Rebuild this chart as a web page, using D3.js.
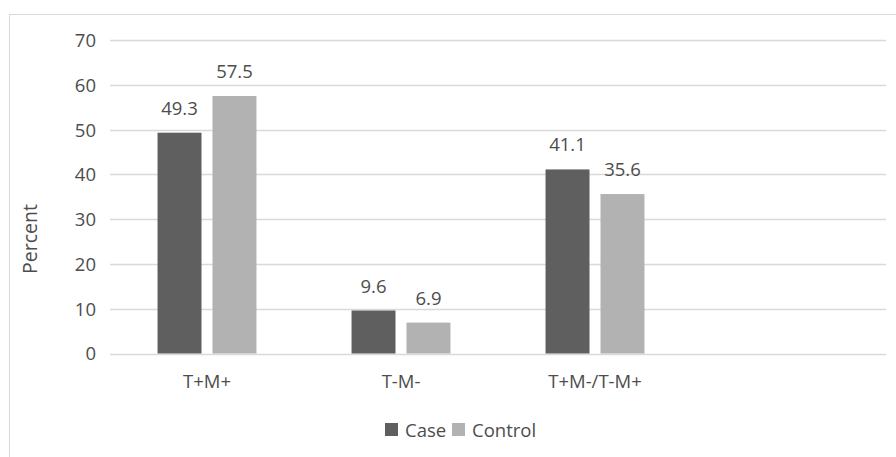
<!DOCTYPE html>
<html>
<head>
<meta charset="utf-8">
<script src="https://cdn.jsdelivr.net/npm/d3@7"></script>
<style>
  html, body { margin: 0; padding: 0; background: #fff; }
  svg text { font-family: "Open Sans", sans-serif; fill: #4d4d4d; }
</style>
</head>
<body>
<script>
// Grouped bar chart: Case vs Control percentages by marker pattern
const categories = ["T+M+", "T-M-", "T+M-/T-M+", ""];
const seriesNames = ["Case", "Control"];
const caseValues = [49.3, 9.6, 41.1, null];
const controlValues = [57.5, 6.9, 35.6, null];
const yTicks = [0, 10, 20, 30, 40, 50, 60, 70];
const seriesColors = ["#5f5f5f", "#b2b2b2"];

const W = 896, H = 457;
const FS = 18.5;

const svg = d3.select("body").append("svg")
  .attr("width", W).attr("height", H);

// chart frame (top and left edges visible)
svg.append("rect")
  .attr("x", 9.5).attr("y", 14.5)
  .attr("width", W + 20).attr("height", H + 20)
  .attr("fill", "#fff").attr("stroke", "#d9d9d9").attr("stroke-width", 1);

const x0 = d3.scaleBand().domain(categories)
  .range([110, 886]).paddingInner(0.49).paddingOuter(0.245);
const x1 = d3.scaleBand().domain(seriesNames)
  .range([0, x0.bandwidth()]).paddingInner(0.2).paddingOuter(0);
const y = d3.scaleLinear().domain([0, 70]).range([353.5, 40]);

// gridlines
svg.append("g").selectAll("line").data(yTicks).join("line")
  .attr("x1", 110).attr("x2", 886)
  .attr("y1", d => Math.round(y(d)) + 0.5).attr("y2", d => Math.round(y(d)) + 0.5)
  .attr("stroke", "#d9d9d9").attr("stroke-width", 1.3);

// y axis labels
const yAxis = d3.axisLeft(y).tickValues(yTicks).tickSize(0).tickPadding(0);
const axisG = svg.append("g").attr("transform", "translate(96,0)").call(yAxis);
axisG.select(".domain").remove();
axisG.selectAll("text")
  .attr("font-size", FS).attr("font-family", "Open Sans, sans-serif")
  .attr("fill", "#4d4d4d").attr("text-anchor", "end").attr("dy", "0.35em");

// bars
const rows = categories.map((c, i) => ({
  cat: c,
  vals: [
    { name: "Case", v: caseValues[i] },
    { name: "Control", v: controlValues[i] }
  ].filter(d => d.v != null)
}));

const groups = svg.append("g").selectAll("g").data(rows).join("g")
  .attr("transform", d => `translate(${x0(d.cat)},0)`);

groups.selectAll("rect").data(d => d.vals).join("rect")
  .attr("x", d => x1(d.name))
  .attr("width", x1.bandwidth())
  .attr("y", d => y(d.v))
  .attr("height", d => y(0) - y(d.v))
  .attr("fill", d => seriesColors[seriesNames.indexOf(d.name)]);

// value labels
groups.selectAll("text.val").data(d => d.vals).join("text")
  .attr("class", "val")
  .attr("x", d => x1(d.name) + x1.bandwidth() / 2)
  .attr("y", d => y(d.v) - 18)
  .attr("text-anchor", "middle")
  .attr("font-size", FS)
  .text(d => d.v.toFixed(1));

// category axis labels
const xAxis = d3.axisBottom(x0).tickSize(0).tickPadding(0);
const xg = svg.append("g").attr("transform", `translate(0,${y(0)})`).call(xAxis);
xg.select(".domain").remove();
xg.selectAll("text")
  .attr("font-size", FS).attr("font-family", "Open Sans, sans-serif")
  .attr("fill", "#4d4d4d").attr("dy", null).attr("y", 34);

// y axis title
svg.append("text")
  .attr("transform", "translate(37,239) rotate(-90)")
  .attr("text-anchor", "middle")
  .attr("font-size", 19.5)
  .text("Percent");

// legend
const legend = svg.append("g").attr("transform", "translate(385,423)");
const legendItems = [
  { name: "Case", x: 0 },
  { name: "Control", x: 67 }
];
const li = legend.selectAll("g").data(legendItems).join("g")
  .attr("transform", d => `translate(${d.x},0)`);
li.append("rect").attr("width", 13).attr("height", 13)
  .attr("fill", d => seriesColors[seriesNames.indexOf(d.name)]);
li.append("text").attr("x", 20).attr("y", 13.5).attr("font-size", FS)
  .text(d => d.name);
</script>
</body>
</html>
